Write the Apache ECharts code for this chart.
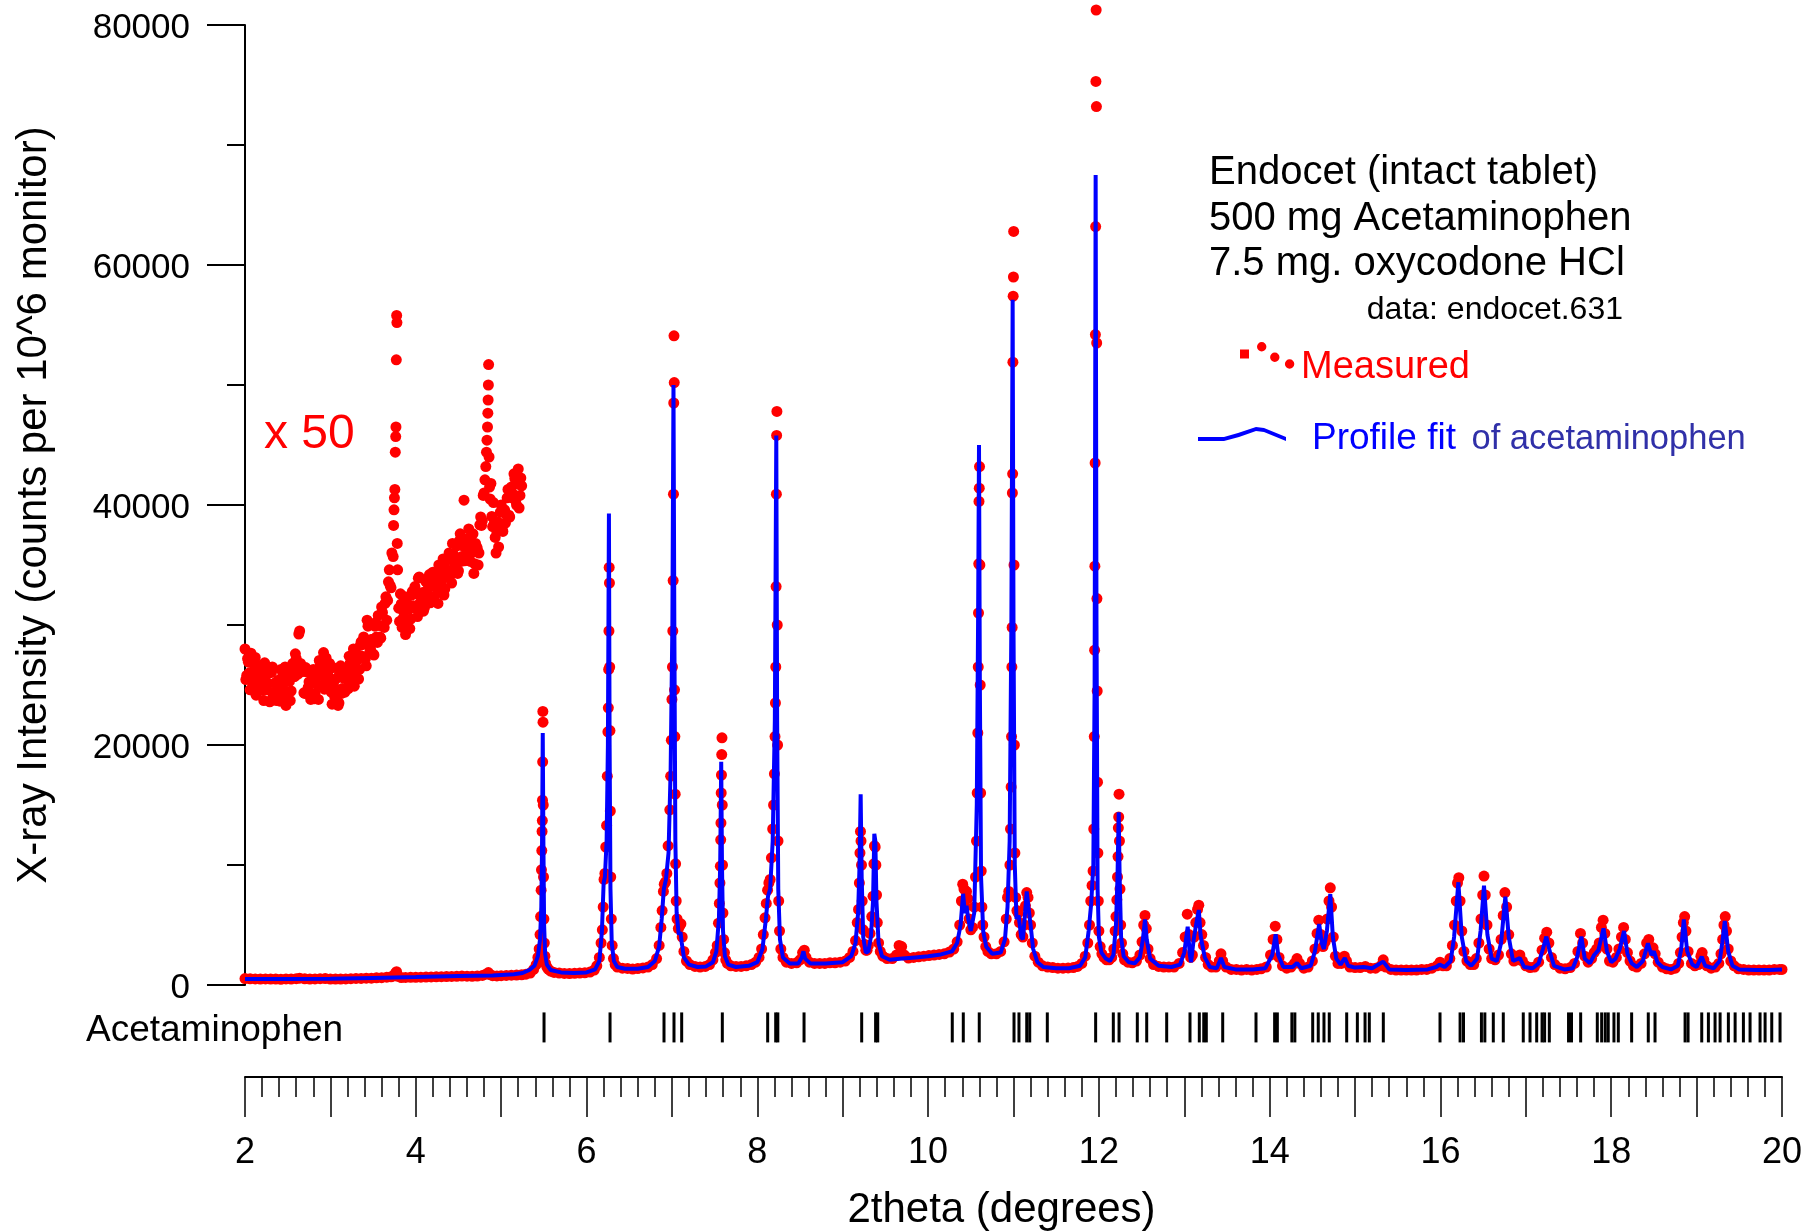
<!DOCTYPE html>
<html><head><meta charset="utf-8">
<script src="https://cdn.jsdelivr.net/npm/echarts/dist/echarts.min.js"></script>
<style>html,body{margin:0;padding:0;background:#fff}#chart{width:1805px;height:1231px}</style>
</head><body><div id="chart"></div>
<script>
const FONT = "'Liberation Sans', Arial, Helvetica, sans-serif";

// Measured intensity (2theta, counts)
const measured = [
[2.00,540],[2.06,520],[2.12,505],[2.18,490],[2.24,510],[2.30,495],[2.36,500],[2.42,480],[2.48,510],[2.54,500],[2.60,530],[2.64,570],[2.70,520],[2.76,500],[2.82,505],[2.88,530],[2.94,540],[3.00,500],[3.06,490],[3.12,500],[3.18,510],[3.24,530],[3.30,545],[3.36,550],[3.42,570],[3.48,570],[3.54,600],[3.60,610],[3.66,650],[3.71,680],[3.74,760],[3.755,880],[3.765,1000],[3.775,1110],[3.79,720],[3.83,620],[3.88,630],[3.94,640],[4.00,645],[4.06,655],[4.12,660],[4.18,670],[4.24,680],[4.30,690],[4.36,700],[4.42,710],[4.48,720],[4.54,740],[4.60,735],[4.66,730],[4.72,740],[4.78,800],[4.82,900],[4.85,1034],[4.87,860],[4.90,780],[4.95,760],[5.00,780],[5.06,800],[5.12,820],[5.18,830],[5.24,850],[5.29,900],
[5.34,1000],[5.38,1300],[5.41,1700],[5.43,2300],[5.445,3000],[5.455,4200],[5.462,5700],[5.468,7900],[5.472,9600],[5.476,11200],[5.479,12800],[5.482,13700],[5.484,15400],[5.486,18600],[5.488,22800],[5.49,21900],[5.493,15000],[5.496,9000],[5.5,5500],[5.505,3500],[5.512,2400],[5.52,1800],[5.535,1500],[5.555,1300],[5.58,1150],[5.62,1050],[5.68,1000],[5.74,960],[5.8,950],[5.86,970],[5.92,990],[5.98,1020],[6.04,1080],[6.09,1250],
[6.12,1600],[6.15,2300],[6.17,3500],[6.185,4600],[6.195,6500],[6.205,8800],[6.215,9300],[6.225,11500],[6.235,13300],[6.243,17400],[6.25,21100],[6.255,23100],[6.259,26300],[6.262,29500],[6.265,34800],[6.268,33500],[6.271,26500],[6.274,21200],[6.278,14500],[6.283,9000],[6.29,5500],[6.3,3300],[6.315,2200],[6.335,1700],[6.36,1500],[6.42,1400],[6.48,1380],[6.54,1330],[6.6,1370],[6.66,1420],[6.72,1500],[6.77,1700],
[6.82,2200],[6.85,3300],[6.87,4800],[6.885,6200],[6.9,7800],[6.91,8400],[6.925,8600],[6.94,9300],[6.955,11600],[6.975,14600],[6.985,17400],[6.993,20400],[7.0,23800],[7.006,26500],[7.01,29500],[7.014,33700],[7.018,40900],[7.021,48500],[7.024,54100],[7.027,50200],[7.03,24600],[7.034,20700],[7.038,15900],[7.043,10100],[7.05,7000],[7.06,5500],[7.075,4700],[7.09,4900],[7.105,5100],[7.12,4000],[7.14,2800],[7.17,2000],[7.21,1700],[7.27,1550],[7.33,1500],[7.39,1550],[7.44,1700],[7.48,2100],
[7.51,2700],[7.53,3300],[7.545,5150],[7.555,6800],[7.562,8500],[7.567,9900],[7.571,12100],[7.574,13500],[7.577,16000],[7.58,17500],[7.583,19200],[7.586,20600],[7.589,15000],[7.592,10000],[7.597,6000],[7.605,3800],[7.615,2700],[7.63,2100],[7.65,1800],[7.69,1600],[7.75,1550],[7.81,1550],[7.87,1600],[7.93,1700],[7.98,1900],
[8.02,2300],[8.05,3000],[8.07,4200],[8.09,5600],[8.105,6800],[8.12,7900],[8.135,8500],[8.15,8800],[8.165,10600],[8.18,13000],[8.19,15000],[8.2,17600],[8.207,20700],[8.212,23500],[8.216,26500],[8.22,33200],[8.223,40900],[8.226,45800],[8.229,47800],[8.233,30000],[8.237,20000],[8.242,12000],[8.25,7000],[8.26,4500],[8.275,3000],[8.3,2300],[8.34,1900],[8.4,1800],[8.46,1850],[8.5,2100],[8.53,2700],[8.55,2900],[8.57,2300],[8.61,1900],[8.67,1800],[8.73,1800],[8.79,1800],[8.85,1850],[8.91,1850],[8.97,1900],[9.03,2000],[9.08,2300],
[9.12,2800],[9.15,3700],[9.17,5200],[9.185,6300],[9.195,8500],[9.202,11000],[9.208,12800],[9.214,12000],[9.22,10000],[9.228,7000],[9.24,4600],[9.255,3400],[9.27,2900],[9.285,2900],[9.3,3300],[9.32,4300],[9.34,5700],[9.355,7400],[9.365,10100],[9.372,11600],[9.38,11500],[9.388,10000],[9.396,7500],[9.405,5200],[9.42,3500],[9.44,2800],[9.47,2400],[9.52,2200],[9.58,2200],[9.63,2500],[9.66,3300],[9.69,3200],[9.72,2500],[9.77,2250],[9.83,2300],[9.89,2350],[9.95,2400],[10.01,2450],[10.07,2500],[10.13,2550],[10.19,2600],[10.25,2750],[10.3,3000],
[10.34,3600],[10.37,5000],[10.39,7000],[10.405,8400],[10.42,8000],[10.435,6500],[10.45,7800],[10.465,7200],[10.48,5500],[10.5,4600],[10.52,4800],[10.54,6500],[10.555,9000],[10.567,12000],[10.575,16000],[10.582,21000],[10.587,26500],[10.59,31000],[10.593,35100],[10.596,40300],[10.599,41400],[10.602,43200],[10.606,35000],[10.61,25000],[10.615,16000],[10.622,9500],[10.63,6500],[10.64,5000],[10.655,4000],[10.675,3200],[10.7,2800],[10.74,2600],[10.8,2600],[10.85,2800],[10.89,3600],
[10.915,5500],[10.93,7300],[10.945,7800],[10.958,10000],[10.965,13000],[10.972,16500],[10.977,20700],[10.981,26500],[10.984,29800],[10.987,41000],[10.99,42600],[10.993,51900],[10.996,57400],[10.999,59000],[11.002,62800],[11.006,35000],[11.01,20000],[11.016,11000],[11.025,7300],[11.04,6200],[11.055,6000],[11.07,5200],[11.09,4200],[11.11,4000],[11.125,5000],[11.14,6600],[11.155,7700],[11.17,7300],[11.185,6000],[11.2,5000],[11.22,3500],[11.25,2400],[11.29,1900],[11.34,1600],[11.4,1500],[11.46,1450],[11.52,1400],[11.58,1400],[11.64,1420],[11.7,1450],[11.75,1550],[11.8,1800],[11.84,2400],[11.87,3500],[11.89,5000],[11.905,7000],[11.92,8300],[11.932,9500],
[11.94,13000],[11.946,20700],[11.95,27900],[11.953,34900],[11.956,43500],[11.959,54200],[11.962,63200],[11.965,75300],[11.968,81250],[11.971,73200],[11.974,53500],[11.977,32200],[11.98,24500],[11.984,16900],[11.988,11000],[11.993,7000],[12.0,4500],[12.015,3200],[12.035,2600],[12.06,2300],[12.09,2100],[12.12,2100],[12.15,2300],[12.175,3000],
[12.19,4500],[12.2,5700],[12.21,7100],[12.218,9000],[12.224,10700],[12.228,13100],[12.232,14000],[12.236,15900],[12.241,12000],[12.247,8000],[12.255,5000],[12.265,3500],[12.28,2600],[12.3,2100],[12.34,1900],[12.39,1850],[12.44,2000],[12.48,2500],[12.505,3600],[12.525,5000],[12.54,5800],[12.555,4700],[12.575,3000],[12.6,2200],[12.64,1700],[12.7,1550],[12.76,1500],[12.82,1500],[12.88,1500],[12.94,1800],[12.98,2700],[13.01,4000],[13.035,5900],[13.055,4200],[13.075,2300],[13.095,2500],[13.115,4000],[13.135,5200],[13.155,6300],[13.17,6650],[13.185,5200],[13.205,4200],[13.225,3300],[13.25,2300],[13.28,1700],[13.32,1500],[13.37,1500],[13.41,2000],[13.43,2600],[13.45,2000],[13.49,1500],[13.55,1300],[13.61,1300],[13.67,1250],[13.73,1300],[13.79,1250],[13.85,1300],[13.9,1350],[13.96,1500],
[14.01,2500],[14.04,3800],[14.065,4900],[14.085,3800],[14.11,2300],[14.15,1600],[14.2,1400],[14.25,1500],[14.29,1800],[14.32,2200],[14.35,1800],[14.4,1400],[14.45,1500],[14.5,2000],[14.53,3000],[14.555,4300],[14.575,5400],[14.6,4200],[14.625,3200],[14.65,3600],[14.675,5500],[14.695,7000],[14.71,8100],[14.725,6500],[14.745,4000],[14.77,2400],[14.8,1800],[14.84,1800],[14.875,2400],[14.9,2000],[14.94,1500],[15.0,1450],[15.06,1450],[15.12,1550],[15.18,1400],[15.24,1400],[15.3,1600],[15.33,2100],[15.36,1500],[15.42,1300],[15.48,1250],[15.54,1250],[15.6,1250],[15.66,1250],[15.72,1250],[15.78,1300],[15.84,1300],[15.9,1400],[15.96,1600],[15.995,1900],[16.03,1600],[16.07,1600],
[16.11,2200],[16.14,3300],[16.165,5000],[16.185,7000],[16.2,8500],[16.215,8940],[16.23,7000],[16.25,4500],[16.275,2800],[16.31,2000],[16.35,1700],[16.39,1700],[16.42,2200],[16.45,3500],[16.475,5500],[16.495,7500],[16.51,9080],[16.525,7500],[16.545,5000],[16.57,3000],[16.6,2200],[16.64,2100],[16.68,2500],[16.71,3800],[16.735,5800],[16.755,7700],[16.775,6500],[16.8,4200],[16.83,2600],[16.86,2000],[16.9,2100],[16.93,2500],[16.96,2000],[17.0,1600],[17.05,1450],[17.1,1500],[17.15,1900],[17.19,2900],[17.22,3900],[17.245,4400],[17.27,3500],[17.3,2300],[17.34,1700],[17.4,1400],[17.46,1350],[17.52,1450],[17.57,1800],[17.61,2800],[17.64,4300],[17.665,3500],[17.69,2400],[17.73,1900],[17.77,2200],[17.8,2700],[17.83,3000],[17.86,3500],[17.885,4800],[17.905,5400],[17.925,4300],[17.95,3000],[17.98,2000],
[18.02,1900],[18.06,2300],[18.09,3000],[18.12,4000],[18.145,4800],[18.165,3800],[18.19,2700],[18.22,2000],[18.26,1600],[18.3,1500],[18.35,1800],[18.39,2600],[18.415,3500],[18.44,3800],[18.465,3000],[18.49,3100],[18.515,2600],[18.55,1900],[18.6,1500],[18.65,1350],[18.7,1300],[18.75,1400],[18.79,1800],[18.81,2700],[18.83,4000],[18.845,5200],[18.86,5700],[18.875,4500],[18.9,2800],[18.94,1800],[18.98,1600],[19.02,1700],[19.05,2400],[19.065,2700],[19.085,2100],[19.12,1600],[19.17,1400],[19.22,1500],[19.26,1800],[19.285,2600],[19.305,3800],[19.32,5000],[19.335,5700],[19.35,4500],[19.37,3000],[19.4,2000],[19.44,1600],[19.49,1350],[19.55,1300],[19.61,1250],[19.67,1250],[19.73,1250],[19.79,1250],[19.85,1250],[19.91,1300],[19.97,1300],[20.0,1300]
];

// Low-angle measured intensity multiplied by 50
const measuredX50 = [
[2.00,28000],[2.02,25800],[2.04,26900],[2.06,24600],[2.08,27000],[2.10,25800],[2.12,27300],[2.14,24500],[2.16,25700],[2.18,24800],[2.20,26400],[2.22,23700],[2.24,25800],[2.26,25000],[2.28,26000],[2.30,23700],[2.32,26500],[2.34,24400],[2.36,25200],[2.38,23800],
[2.40,24400],[2.42,26300],[2.44,23800],[2.46,25300],[2.48,23300],[2.50,25900],[2.52,25300],[2.54,24500],[2.56,26800],[2.58,25700],[2.60,27200],[2.62,25900],[2.64,29500],[2.66,26100],[2.68,26200],[2.70,24300],[2.72,26100],[2.74,24800],[2.76,26200],[2.78,24100],
[2.80,26300],[2.82,24300],[2.84,25700],[2.86,23800],[2.88,26600],[2.90,25800],[2.92,27700],[2.94,25100],[2.96,26400],[2.98,25100],[3.00,26400],[3.02,23400],[3.04,25300],[3.06,24400],[3.08,25600],[3.10,23500],[3.12,26600],[3.14,24700],[3.16,25800],[3.18,24600],
[3.20,25400],[3.22,27400],[3.24,25100],[3.26,26700],[3.28,24900],[3.30,27600],[3.32,27100],[3.34,26300],[3.36,28600],[3.38,27300],[3.40,28400],[3.42,26600],[3.43,30400],[3.44,29900],[3.46,27700],[3.48,28800],[3.50,27600],[3.52,29900],[3.54,29000],[3.56,30800],[3.58,29000],
[3.60,31500],[3.62,29900],[3.64,31800],[3.66,30400],[3.68,33600],[3.70,33300],[3.72,36000],
[3.735,35700],[3.74,38300],[3.745,39600],[3.75,40600],[3.755,41300],[3.76,44400],[3.765,45700],[3.768,46500],[3.772,52100],[3.776,55800],[3.779,55200],[3.783,36800],[3.787,34600],
[3.80,31400],[3.82,32600],[3.84,29800],[3.86,31100],[3.88,29200],[3.90,31800],[3.92,31300],[3.94,30500],[3.96,32800],[3.98,31500],[4.00,32600],[4.02,30700],[4.04,34000],[4.06,31700],[4.08,32700],[4.10,31400],[4.12,33600],[4.14,32600],[4.16,34200],[4.18,32200],
[4.20,34400],[4.22,32400],[4.24,33800],[4.26,31800],[4.28,34500],[4.30,33600],[4.32,35500],[4.34,33000],[4.36,34600],[4.38,34000],[4.40,35900],[4.42,33500],[4.44,35900],[4.46,35300],[4.48,36600],[4.50,34500],[4.52,37600],[4.54,35700],[4.56,36800],[4.565,40400],[4.58,35500],
[4.60,36200],[4.62,38000],[4.64,35300],[4.66,36500],[4.68,34300],[4.70,36800],[4.72,36400],[4.74,36000],[4.76,39000],[4.78,38700],
[4.80,41000],[4.81,42100],[4.82,43200],[4.828,44400],[4.834,45400],[4.84,46500],[4.844,47650],[4.847,48750],[4.85,50000],[4.853,51700],[4.858,44000],[4.864,41500],[4.87,40500],
[4.88,41800],[4.90,38200],[4.92,38500],[4.94,36000],[4.96,38600],[4.98,37900],[5.00,40000],[5.02,37800],[5.04,39600],[5.06,39200],[5.08,41300],[5.10,39000],[5.12,41500],[5.14,40900],[5.16,42200],[5.18,40000],[5.20,43000],[5.22,40800],[5.24,41600],
[2.01,25450],[2.03,27200],[2.05,26000],[2.07,27650],[2.09,25150],[2.11,26300],[2.13,24150],[2.15,26600],[2.17,25350],[2.19,26650],[2.21,24550],[2.23,26850],[2.25,24600],[2.27,25150],[2.29,23600],[2.31,26050],[2.33,24100],[2.35,25150],[2.37,23700],[2.39,25400],
[2.41,23650],[2.43,25600],[2.45,24650],[2.47,26500],[2.49,24150],[2.51,25550],[2.53,23700],[2.55,26500],[2.57,25700],[2.59,27600],[2.61,26250],[2.63,29250],[2.65,26800],[2.67,26500],[2.69,24350],[2.71,26450],[2.73,24300],[2.75,25250],[2.77,23800],[2.79,25550],
[2.81,23850],[2.83,25850],[2.85,25000],[2.87,27050],[2.89,24950],[2.91,26500],[2.93,24650],[2.95,27250],[2.97,25850],[2.99,26800],[3.01,24400],[3.03,26450],[3.05,24050],[3.07,24650],[3.09,23300],[3.11,26000],[3.13,24300],[3.15,25600],[3.17,24400],[3.19,26300],
[3.21,24700],[3.23,26800],[3.25,26000],[3.27,28000],[3.29,25800],[3.31,27300],[3.33,25500],[3.35,28300],[3.37,27400],[3.39,29000],[3.41,27200],[3.45,30000],[3.47,28000],[3.49,28800],[3.51,27500],[3.53,30200],[3.55,28550],[3.57,29950],[3.59,28900],
[3.61,31050],[3.63,29800],[3.65,32350],[3.67,32050],[3.69,34600],[3.71,33100],
[3.81,30300],[3.83,31750],[3.85,30550],[3.87,32350],[3.89,30050],[3.91,31500],[3.93,29700],[3.95,32500],[3.97,31600],[3.99,33200],[4.01,31350],[4.03,33900],[4.05,31850],[4.07,32550],[4.09,31150],[4.11,33750],[4.13,31950],[4.15,33150],[4.17,31850],[4.19,33650],
[4.21,31950],[4.23,33950],[4.25,33050],[4.27,35000],[4.29,32800],[4.31,34300],[4.33,32500],[4.35,35300],[4.37,34400],[4.39,36000],[4.41,34200],[4.43,36800],[4.45,34800],[4.47,35600],[4.49,34300],[4.51,37000],[4.53,35300],[4.55,36600],[4.57,35350],[4.59,37150],
[4.61,35400],[4.63,37200],[4.65,36000],[4.67,37600],[4.69,35100],[4.71,36550],[4.73,35000],[4.75,38350],[4.77,38300],[4.79,40800],
[4.89,39050],[4.91,40200],[4.93,37300],[4.95,37750],[4.97,36500],[4.99,39400],[5.01,37950],[5.03,39500],[5.05,38500],[5.07,40600],[5.09,39150],[5.11,41350],[5.13,40600],[5.15,42600],[5.17,40350],[5.19,41750],[5.21,39750],[5.23,42250]
];

// Rietveld profile fit of acetaminophen (2theta, counts)
const profileFit = [
[2.0,500],[2.5,510],[3.0,520],[3.5,590],[4.0,660],[4.5,740],[4.9,800],[5.15,900],[5.25,1000],[5.33,1250],[5.39,1600],[5.43,2400],[5.455,3800],[5.47,6500],[5.478,11000],[5.487,21000],[5.495,11500],[5.503,5000],[5.515,2600],[5.535,1700],[5.58,1250],[5.7,1050],[5.85,1000],[6.0,1050],[6.1,1300],
[6.15,2000],[6.18,4500],[6.2,8500],[6.215,9000],[6.235,12000],[6.25,20000],[6.262,39300],[6.27,20000],[6.28,8000],[6.295,3500],[6.32,2000],[6.36,1500],[6.45,1350],[6.6,1350],[6.72,1500],[6.8,2000],[6.85,3200],[6.88,5500],[6.905,8000],[6.93,8800],[6.96,11000],[6.985,18000],[7.005,30000],[7.018,50000],[7.028,30000],[7.04,12000],[7.055,6000],[7.08,4200],[7.1,4400],[7.115,3500],[7.14,2300],[7.2,1700],[7.3,1500],[7.4,1550],[7.48,1900],[7.52,2800],[7.55,5500],[7.565,10000],[7.577,18600],[7.586,10000],[7.598,4500],[7.62,2400],[7.66,1700],[7.75,1500],[7.9,1600],[8.0,1900],
[8.06,3000],[8.1,5500],[8.125,7400],[8.15,8000],[8.18,12000],[8.205,22000],[8.222,45800],[8.232,22000],[8.245,8000],[8.265,3800],[8.3,2300],[8.38,1800],[8.48,1800],[8.52,2300],[8.54,2800],[8.56,2200],[8.62,1800],[8.8,1800],[9.0,1900],[9.1,2400],[9.15,3500],[9.18,6000],[9.197,10000],[9.21,15900],[9.222,9000],[9.24,4000],[9.27,2700],[9.3,2800],[9.33,4000],[9.355,7000],[9.37,12600],[9.382,12000],[9.395,7000],[9.42,3500],[9.46,2400],[9.55,2100],[9.7,2200],[9.85,2300],[10.0,2400],[10.15,2550],[10.28,2800],
[10.34,3500],[10.38,5000],[10.41,7600],[10.43,6000],[10.45,6600],[10.47,5500],[10.5,4500],[10.54,6000],[10.57,15000],[10.585,30000],[10.596,45000],[10.606,25000],[10.62,9000],[10.645,4500],[10.68,3200],[10.75,2600],[10.85,2700],[10.9,3800],[10.93,6500],[10.955,12000],[10.975,30000],[10.99,57100],[11.0,30000],[11.015,10000],[11.035,5500],[11.06,5800],[11.09,4000],[11.11,3800],[11.13,5500],[11.155,7800],[11.175,6500],[11.2,5000],[11.23,3000],[11.28,1900],[11.35,1500],[11.5,1400],[11.65,1400],[11.78,1600],
[11.84,2300],[11.88,4500],[11.91,6800],[11.935,10000],[11.95,25000],[11.962,67500],[11.972,30000],[11.985,8000],[12.0,4000],[12.03,2700],[12.08,2200],[12.13,2000],[12.17,2500],[12.2,5000],[12.218,9000],[12.232,14400],[12.243,9000],[12.26,4000],[12.29,2400],[12.35,1900],[12.42,1800],[12.48,2300],[12.515,3800],[12.54,5470],[12.56,3800],[12.6,2200],[12.7,1600],[12.85,1500],[12.95,1700],[13.0,2700],[13.04,4860],[13.065,2500],[13.08,1900],[13.11,3800],[13.15,5500],[13.17,6250],[13.19,4200],[13.2,3750],[13.24,2300],[13.3,1500],[13.38,1400],[13.43,2250],[13.47,1500],[13.6,1300],[13.8,1300],[13.95,1400],
[14.03,2500],[14.07,4220],[14.1,2500],[14.16,1500],[14.27,1500],[14.32,1830],[14.37,1400],[14.48,1600],[14.53,2800],[14.58,5080],[14.61,3500],[14.635,3000],[14.67,4500],[14.71,7580],[14.74,4000],[14.78,2200],[14.83,1700],[14.88,2250],[14.92,1600],[15.0,1450],[15.1,1500],[15.2,1400],[15.33,1950],[15.4,1300],[15.6,1250],[15.85,1300],[15.95,1500],[15.99,1700],[16.05,1500],
[16.12,2000],[16.16,4000],[16.21,8560],[16.25,4000],[16.3,2000],[16.36,1600],[16.43,2200],[16.47,4500],[16.51,8280],[16.55,4200],[16.6,2200],[16.66,2000],[16.71,3500],[16.76,7360],[16.8,4000],[16.85,2000],[16.93,2250],[16.98,1500],[17.08,1400],[17.15,1800],[17.2,3000],[17.24,4030],[17.28,2800],[17.33,1600],[17.45,1300],[17.55,1400],[17.6,2300],[17.65,4030],[17.69,2200],[17.75,1800],[17.8,2500],[17.85,2900],[17.91,4720],[17.95,2800],[18.0,1900],
[18.05,2200],[18.1,3000],[18.15,4500],[18.19,2600],[18.24,1800],[18.3,1500],[18.37,2000],[18.43,3470],[18.47,2500],[18.5,2800],[18.54,1900],[18.6,1500],[18.7,1300],[18.78,1600],[18.82,3000],[18.85,5470],[18.89,2800],[18.95,1700],[19.0,1500],[19.06,2360],[19.1,1600],[19.2,1400],[19.27,2000],[19.3,3500],[19.33,5330],[19.37,2800],[19.42,1600],[19.5,1300],[19.7,1250],[19.85,1250],[20.0,1300]
];

// Calculated acetaminophen reflection positions (2theta)
const reflections = [5.502,6.275,6.907,7.024,7.114,7.590,8.121,8.215,8.24,8.547,9.222,9.385,9.41,10.283,10.412,10.599,11.006,11.064,11.155,11.19,11.396,11.962,12.169,12.236,12.45,12.56,12.794,13.067,13.176,13.228,13.258,13.45,13.84,14.058,14.09,14.26,14.295,14.504,14.569,14.636,14.698,14.902,15.027,15.117,15.167,15.331,15.995,16.23,16.27,16.48,16.52,16.619,16.736,16.970,17.049,17.127,17.19,17.22,17.275,17.50,17.535,17.642,17.837,17.888,17.93,17.965,18.032,18.083,18.239,18.434,18.513,18.865,18.90,19.06,19.138,19.216,19.275,19.372,19.451,19.548,19.626,19.743,19.802,19.880,19.977];

const annotationLines = ['Endocet (intact tablet)', '500 mg Acetaminophen', '7.5 mg. oxycodone HCl'];
const dataFileLabel = 'data: endocet.631';

const MEASURED_ICON = 'path://M0,0 M2,7.5 L11,7.5 L11,16.5 L2,16.5 Z M19,4.7 a4.7,4.7 0 1,0 9.4,0 a4.7,4.7 0 1,0 -9.4,0 Z M32.1,15.3 a4.7,4.7 0 1,0 9.4,0 a4.7,4.7 0 1,0 -9.4,0 Z M46.9,22 a4.7,4.7 0 1,0 9.4,0 a4.7,4.7 0 1,0 -9.4,0 Z M58,52';
const FIT_ICON = 'path://M0,0 M0,23 L26,23 L40,19 L58,13 L66,14 L88,23 L88,27 L66,18 L58,17 L41,23 L26,27 L0,27 Z M109,50';

const chart = echarts.init(document.getElementById('chart'), null, {renderer: 'canvas'});
const option = {
  animation: false,
  backgroundColor: '#ffffff',
  textStyle: {fontFamily: FONT},
  grid: [
    {left: 245, right: 23, top: 25, bottom: 246, outerBoundsMode: 'none'},
    {left: 245, right: 23, top: 1010, bottom: 154, outerBoundsMode: 'none'}
  ],
  xAxis: [
    {gridIndex: 0, type: 'value', min: 2, max: 20, show: false},
    {gridIndex: 1, type: 'value', min: 2, max: 20, interval: 1, position: 'bottom',
     axisLine: {show: true, onZero: false, lineStyle: {color: '#000', width: 2}},
     axisTick: {show: true, length: 40, lineStyle: {color: '#000', width: 1.5}},
     minorTick: {show: true, splitNumber: 5, length: 20, lineStyle: {color: '#000', width: 1.5}},
     splitLine: {show: false}, minorSplitLine: {show: false},
     axisLabel: {margin: 58, fontSize: 36, color: '#000', fontFamily: FONT,
       formatter: function (v) { return Math.round(v) % 2 === 0 ? String(Math.round(v)) : ''; }},
     name: '2theta (degrees)', nameLocation: 'middle', nameGap: 112,
     nameTextStyle: {fontSize: 42, color: '#000', fontFamily: FONT, padding: [0, 24, 0, 0]}}
  ],
  yAxis: [
    {gridIndex: 0, type: 'value', min: 0, max: 80000, interval: 20000,
     axisLine: {show: true, onZero: false, lineStyle: {color: '#000', width: 2}},
     axisTick: {show: true, length: 38, lineStyle: {color: '#000', width: 2}},
     minorTick: {show: true, splitNumber: 2, length: 18, lineStyle: {color: '#000', width: 2}},
     splitLine: {show: false}, minorSplitLine: {show: false},
     axisLabel: {margin: 55, fontSize: 35, color: '#000', fontFamily: FONT,
       formatter: function (v) { return '{v|' + v + '}'; },
       rich: {v: {fontSize: 35, fontFamily: FONT, color: '#000', padding: [7, 0, 0, 0]}}},
     name: 'X-ray Intensity (counts per 10^6 monitor)', nameLocation: 'middle', nameGap: 190,
     nameTextStyle: {fontSize: 42, color: '#000', fontFamily: FONT}},
    {gridIndex: 1, type: 'value', min: 0, max: 1, show: false}
  ],
  legend: [
    {show: true, data: [{name: 'Measured', icon: MEASURED_ICON}], left: 1238, top: 342, padding: 0,
     itemWidth: 58, itemHeight: 52, selectedMode: false,
     textStyle: {color: '#ff0000', fontSize: 38, fontFamily: FONT}},
    {show: true, data: [{name: 'Profile fit', icon: FIT_ICON}], left: 1198, top: 411, padding: 0,
     itemWidth: 109, itemHeight: 50, selectedMode: false,
     formatter: function () { return '{a|Profile fit}{s| }{b|of acetaminophen}'; },
     textStyle: {fontFamily: FONT, fontSize: 37,
       rich: {a: {color: '#0000ff', fontSize: 37, fontFamily: FONT},
              s: {fontSize: 56, fontFamily: FONT},
              b: {color: '#3030a8', fontSize: 34.5, fontFamily: FONT}}}}
  ],
  series: [
    {name: 'Measured', type: 'scatter', xAxisIndex: 0, yAxisIndex: 0, data: measured,
     symbol: 'circle', symbolSize: 11, itemStyle: {color: '#ff0000', opacity: 1}, clip: false, z: 2, silent: true},
    {name: 'Measured (x 50)', type: 'scatter', xAxisIndex: 0, yAxisIndex: 0, data: measuredX50,
     symbol: 'circle', symbolSize: 11, itemStyle: {color: '#ff0000', opacity: 1}, clip: false, z: 2, silent: true},
    {name: 'Profile fit', type: 'line', xAxisIndex: 0, yAxisIndex: 0, data: profileFit,
     symbol: 'none', showSymbol: false, lineStyle: {color: '#0000ff', width: 4},
     itemStyle: {color: '#0000ff'}, clip: false, z: 3, silent: true},
    {name: 'Acetaminophen', type: 'scatter', xAxisIndex: 1, yAxisIndex: 1,
     data: reflections.map(function (t) { return [t, 0.74]; }),
     symbol: 'rect', symbolSize: [3, 30], itemStyle: {color: '#000', opacity: 1}, silent: true}
  ],
  graphic: {elements: [
    {type: 'text', x: 86, y: 1031, style: {text: 'Acetaminophen', fontSize: 37, fontFamily: FONT, fill: '#000', align: 'left', verticalAlign: 'middle'}},
    {type: 'text', x: 264, y: 435, style: {text: 'x 50', fontSize: 48, fontFamily: FONT, fill: '#ff0000', align: 'left', verticalAlign: 'middle'}},
    {type: 'text', x: 1209, y: 173, style: {text: annotationLines[0], fontSize: 40, fontFamily: FONT, fill: '#000', align: 'left', verticalAlign: 'middle'}},
    {type: 'text', x: 1209, y: 219, style: {text: annotationLines[1], fontSize: 40, fontFamily: FONT, fill: '#000', align: 'left', verticalAlign: 'middle'}},
    {type: 'text', x: 1209, y: 264, style: {text: annotationLines[2], fontSize: 40, fontFamily: FONT, fill: '#000', align: 'left', verticalAlign: 'middle'}},
    {type: 'text', x: 1623, y: 310, style: {text: dataFileLabel, fontSize: 32, fontFamily: FONT, fill: '#000', align: 'right', verticalAlign: 'middle'}}
  ]}
};
chart.setOption(option);
</script>
</body></html>
